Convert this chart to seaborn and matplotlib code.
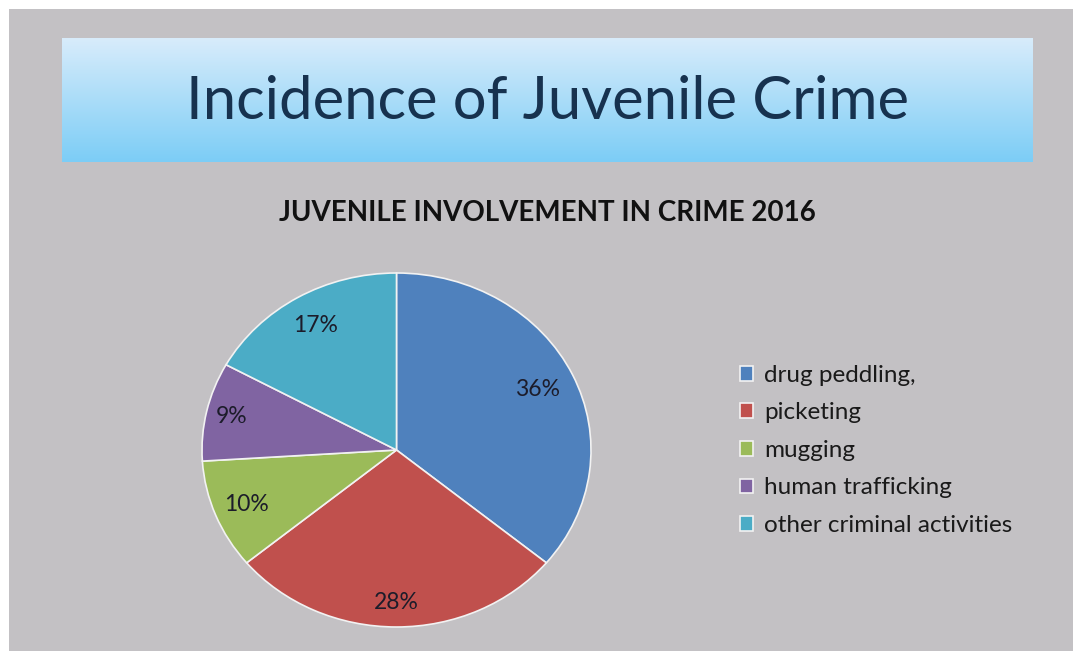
import numpy as np
import matplotlib
matplotlib.use("Agg")
import matplotlib.pyplot as plt
from matplotlib.patches import Rectangle
import seaborn as sns

# ---- data ----
categories = ["drug peddling,", "picketing", "mugging", "human trafficking", "other criminal activities"]
values = [36, 28, 10, 9, 17]
slide_title = "Incidence of Juvenile Crime"
chart_title = "JUVENILE INVOLVEMENT IN CRIME 2016"

# label placement (fraction of radius) for each slice's percentage label
label_dist = [0.80, 0.86, 0.83, 0.87, 0.82]

sns.set_style("white")
plt.rcParams["font.family"] = ["Lato", "DejaVu Sans"]

colors = sns.color_palette(["#4F81BD", "#C0504D", "#9BBB59", "#8064A2", "#4BACC6"])

W, H = 1073, 653
fig = plt.figure(figsize=(W / 100, H / 100), dpi=100, facecolor="white")

def fx(px):
    return px / W

def fy(py):
    return 1 - py / H

# gray slide background
ax_bg = fig.add_axes([0, 0, 1, 1], zorder=-10)
ax_bg.add_patch(Rectangle((fx(9), fy(651)), fx(W - 9), (651 - 9) / H,
                          transform=ax_bg.transAxes, facecolor="#C3C1C4",
                          edgecolor="none"))
ax_bg.set_axis_off()

# title banner with vertical gradient
bx0, bx1, by0, by1 = 62, 1033, 38, 162
ax_b = fig.add_axes([fx(bx0), fy(by1), fx(bx1 - bx0), (by1 - by0) / H])
top = np.array([216, 236, 251]) / 255
bot = np.array([124, 205, 246]) / 255
t = np.linspace(0, 1, 256)[:, None]
grad = top[None, :] * (1 - t) + bot[None, :] * t
ax_b.imshow(grad[:, None, :], aspect="auto", extent=[0, 1, 0, 1])
ax_b.set_axis_off()
ax_b.text(0.5, 0.48, slide_title, ha="center", va="center", fontsize=43,
          color="#17324F", transform=ax_b.transAxes)

# chart title
fig.text(fx(547), fy(213), chart_title, ha="center", va="center",
         fontsize=20, fontweight="bold", color="#111111")

# pie
cx, cy, rx, ry = 396.5, 450, 194.5, 177
ax = fig.add_axes([fx(cx - rx), fy(cy + ry), fx(2 * rx), 2 * ry / H])
wedges, texts, autotexts = ax.pie(
    values, colors=colors, startangle=90, counterclock=False,
    autopct="%1.0f%%", pctdistance=0.82,
    wedgeprops=dict(edgecolor="#F2F2F2", linewidth=1.2),
    textprops=dict(fontsize=16.5, color="#1C1C2A"))
for w, at, d in zip(wedges, autotexts, label_dist):
    ang = np.deg2rad((w.theta1 + w.theta2) / 2)
    at.set_position((d * np.cos(ang), d * np.sin(ang)))
ax.set_aspect("auto")
ax.set_xlim(-1, 1)
ax.set_ylim(-1, 1)
ax.set_axis_off()

# legend
fig.legend(wedges, categories, loc="upper left",
           bbox_to_anchor=(fx(718), fy(343)), frameon=False,
           fontsize=17.5, handlelength=0.55, handleheight=0.55,
           handletextpad=0.45, labelspacing=0.68, labelcolor="#1A1A1A")

fig.savefig("out.png", dpi=100, facecolor="white")
